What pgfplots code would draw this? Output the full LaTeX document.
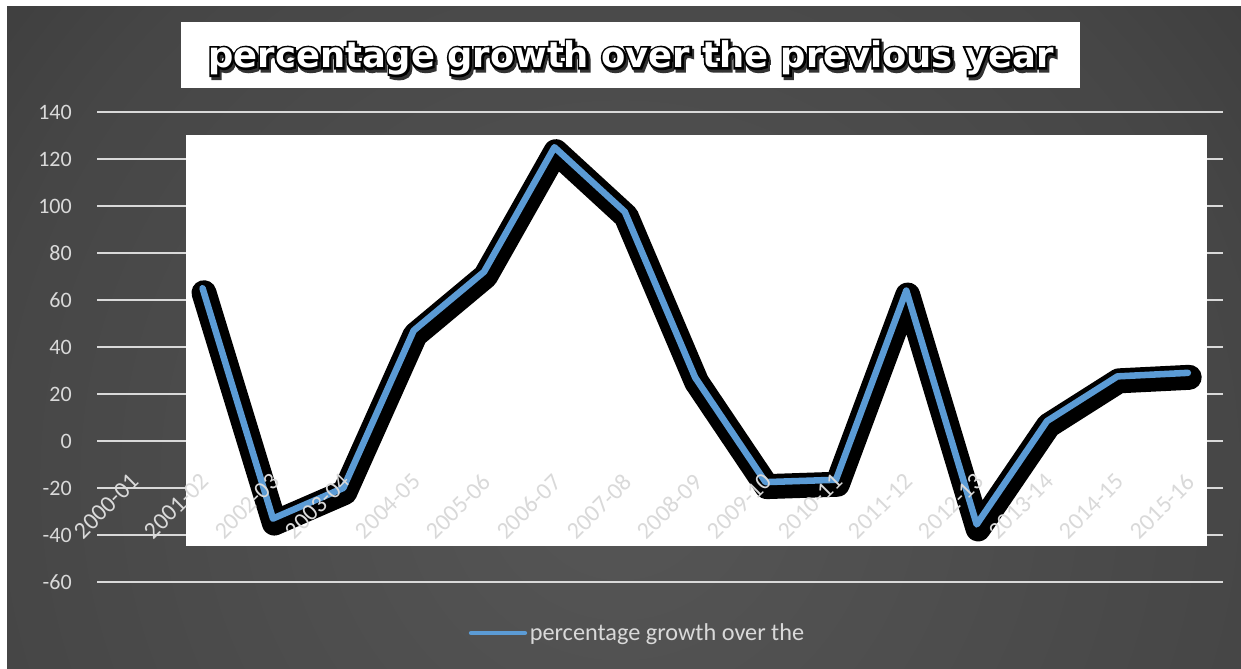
\documentclass[border=0pt]{standalone}
\usepackage{pgfplots}
\pgfplotsset{compat=1.18}
\usepackage{pgfplotstable}
\usepackage{fontspec}
\setmainfont{Carlito}
\newfontfamily\titlefont{DejaVu Sans Bold}
\newfontfamily\titleoutline[FakeBold=12]{DejaVu Sans Bold}
\definecolor{bgA}{HTML}{565656}
\definecolor{bgB}{HTML}{464646}
\definecolor{bgC}{HTML}{333333}
\definecolor{bgD}{HTML}{2A2A2A}
\definecolor{bgE}{HTML}{262626}
\definecolor{lblue}{HTML}{5B9BD5}
\definecolor{lgray}{HTML}{D9D9D9}
\pgfdeclareradialshading{bgshade}{\pgfpointorigin}{color(0bp)=(bgA); color(20bp)=(bgB); color(32bp)=(bgC); color(42bp)=(bgD); color(50bp)=(bgE)}

\pgfplotstableread{
x y
1 65
2 -33
3 -20
4 47
5 72
6 125
7 97.5
8 27
9 -17.5
10 -16.5
11 64
12 -35.5
13 8.5
14 27.5
15 29
}\growth

\begin{document}
\begin{tikzpicture}[x=0.75pt,y=0.75pt]
\useasboundingbox (0,0) rectangle (1241,668);
\fill[white] (0,0) rectangle (1241,668);
\begin{scope}
\clip (7,0) rectangle (1241,661);
\shade[shading=bgshade] (620-800,188-800) rectangle (620+800,188+800);
\end{scope}
% title box
\fill[white] (181,580) rectangle (1080,646);
\node[text=black!80, font=\titleoutline\fontsize{26.5pt}{30pt}\selectfont, inner sep=0pt] at (633,607) {percentage growth over the previous year};
\node[text=black, font=\titleoutline\fontsize{26.5pt}{30pt}\selectfont, inner sep=0pt] at (631,610) {percentage growth over the previous year};
\node[text=white, font=\titlefont\fontsize{26.5pt}{30pt}\selectfont, inner sep=0pt] at (631,610) {percentage growth over the previous year};

\pgfplotsset{
  base/.style={at={(72.75pt,64.5pt)}, anchor=south west, width=844.5pt, height=352.5pt,
    scale only axis, xmin=-0.5, xmax=15.5, ymin=-60, ymax=140,
    axis line style={draw=none}, major tick length=0pt}
}
\begin{axis}[base,
  ytick={-60,-40,...,140},
  yticklabels={-60,-40,-20,0,20,40,60,80,100,120,140},
  xtick=\empty,
  ymajorgrids, grid style={draw=lgray, line width=1.5pt},
  yticklabel style={text=lgray, font=\fontsize{16.5pt}{19pt}\selectfont, anchor=east, inner sep=0pt, xshift=-18.75pt}]
\fill[white] (axis cs:0.767,-44.7) rectangle (axis cs:15.27,130.2);
\end{axis}

\begin{axis}[base, axis on top,
  ytick=\empty,
  xtick={0,...,15},
  xticklabels={2000-01,2001-02,2002-03,2003-04,2004-05,2005-06,2006-07,2007-08,2008-09,2009-10,2010-11,2011-12,2012-13,2013-14,2014-15,2015-16},
  xticklabel style={text=lgray, font=\fontsize{18pt}{21pt}\selectfont, inner sep=0pt, xshift=-2.25pt, yshift=82.5pt, rotate=45, anchor=north east},
  legend style={at={(0.330,-0.1085)}, anchor=west, draw=none, fill=none, inner sep=0pt,
    font=\fontsize{18.2pt}{21pt}\selectfont, text=lgray},
  legend image code/.code={\draw[#1, line width=3.2pt] (0pt,0pt) -- (40.5pt,0pt);}]
\addplot[black, line width=18.75pt, line join=round, line cap=round, forget plot]
  table[x expr=\thisrow{x}+0.02, y expr=\thisrow{y}-1.9] {\growth};
\addplot[lblue, line width=4.9pt, line join=round, line cap=round]
  table[x=x, y=y] {\growth};
\addlegendentry{percentage growth over the}
\end{axis}
\end{tikzpicture}
\end{document}
